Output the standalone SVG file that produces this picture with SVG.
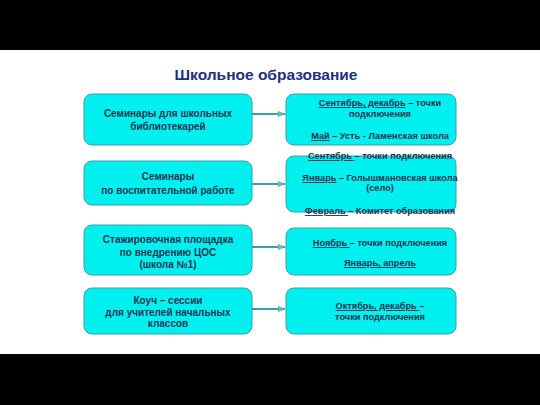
<svg xmlns="http://www.w3.org/2000/svg" width="540" height="405" viewBox="0 0 540 405">
<style>
.box{fill:#00f0f0;stroke:#3a9fa8;stroke-width:1}
.t{font-family:"Liberation Sans",Arial,sans-serif;font-weight:bold;font-size:10px;fill:#1b3550;text-anchor:middle}
.r{font-size:9.2px}
.u{text-decoration:underline}
.c{stroke:#3aa0a8;stroke-width:2;fill:none;marker-end:url(#ah)}
</style>
<defs>
<marker id="ah" markerWidth="8" markerHeight="6" refX="7" refY="3" orient="auto" markerUnits="userSpaceOnUse">
<path d="M0,0.5 L7,3 L0,5.5 Z" fill="#5ac8c8" stroke="#3aa0a8" stroke-width="0.6"/>
</marker>
</defs>
<rect x="0" y="0" width="540" height="405" fill="#ffffff"/>
<rect x="0" y="0" width="540" height="50" fill="#000000"/>
<rect x="0" y="354" width="540" height="51" fill="#000000"/>
<text x="266" y="80" font-family="'Liberation Sans',Arial,sans-serif" font-weight="bold" font-size="15.5px" fill="#1f2f80" text-anchor="middle">Школьное образование</text>
<g id="connectors">
<line class="c" x1="252" y1="114" x2="285" y2="114"/>
<line class="c" x1="252" y1="184" x2="285" y2="184"/>
<line class="c" x1="252" y1="247" x2="285" y2="247"/>
<line class="c" x1="252" y1="309" x2="285" y2="309"/>
</g>
<g id="l1"><rect class="box" x="84" y="94" width="168" height="51" rx="8"/>
<text class="t" x="168" y="117">Семинары для школьных</text><text class="t" x="168" y="130">библиотекарей</text></g>
<g id="l2"><rect class="box" x="84" y="161" width="168" height="44" rx="8"/>
<text class="t" x="168" y="180">Семинары</text><text class="t" x="168" y="194">по воспитательной работе</text></g>
<g id="l3"><rect class="box" x="84" y="225" width="168" height="50" rx="8"/>
<text class="t" x="168" y="243">Стажировочная площадка</text><text class="t" x="168" y="256">по внедрению ЦОС</text><text class="t" x="168" y="268">(школа №1)</text></g>
<g id="l4"><rect class="box" x="84" y="288" width="168" height="46" rx="8"/>
<text class="t" x="168" y="304">Коуч – сессии</text><text class="t" x="168" y="316">для учителей начальных</text><text class="t" x="168" y="327">классов</text></g>
<g id="r1"><rect class="box" x="286" y="94" width="170" height="51" rx="8"/>
<text class="t r" x="380" y="106"><tspan class="u">Сентябрь, декабрь</tspan> – точки</text>
<text class="t r" x="380" y="117">подключения</text>
<text class="t r" x="380" y="139"><tspan class="u">Май</tspan> – Усть - Ламенская школа</text></g>
<g id="r2"><rect class="box" x="286" y="156" width="170" height="56" rx="8"/>
<text class="t r" x="380" y="159"><tspan class="u">Сентябрь </tspan>– точки подключения</text>
<text class="t r" x="380" y="181"><tspan class="u">Январь</tspan> –  Голышмановская школа</text>
<text class="t r" x="380" y="191">(село)</text>
<text class="t r" x="380" y="214"><tspan class="u">Февраль </tspan>– Комитет образования</text></g>
<g id="r3"><rect class="box" x="286" y="228" width="170" height="47" rx="8"/>
<text class="t r" x="380" y="246"><tspan class="u">Ноябрь </tspan>– точки подключения</text>
<text class="t r" x="380" y="266"><tspan class="u">Январь, апрель</tspan></text></g>
<g id="r4"><rect class="box" x="286" y="288" width="170" height="46" rx="8"/>
<text class="t r" x="380" y="309"><tspan class="u">Октябрь, декабрь </tspan>–</text>
<text class="t r" x="380" y="320">точки подключения</text></g>
</svg>
